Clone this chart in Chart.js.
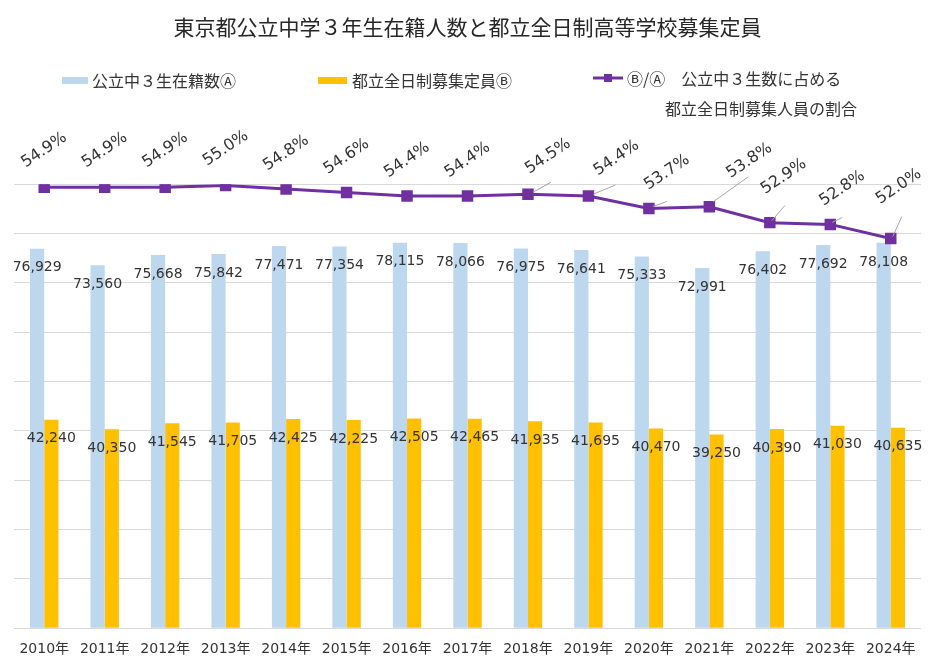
<!DOCTYPE html>
<html lang="ja">
<head>
<meta charset="utf-8">
<title>東京都公立中学３年生在籍人数と都立全日制高等学校募集定員</title>
<script src="https://cdn.jsdelivr.net/npm/chart.js@4.4.1/dist/chart.umd.min.js"></script>
<style>
  body { margin: 0; background: #fff; }
  canvas { display: block; }
</style>
</head>
<body>
<canvas id="chart" width="934" height="668"></canvas>
<script>
// データ
const years = ['2010年', '2011年', '2012年', '2013年', '2014年', '2015年', '2016年', '2017年',
               '2018年', '2019年', '2020年', '2021年', '2022年', '2023年', '2024年'];
const enrolled = [76929, 73560, 75668, 75842, 77471, 77354, 78115, 78066, 76975, 76641, 75333, 72991, 76402, 77692, 78108]; // Ⓐ
const quota = [42240, 40350, 41545, 41705, 42425, 42225, 42505, 42465, 41935, 41695, 40470, 39250, 40390, 41030, 40635];     // Ⓑ
const ratio = [54.9, 54.9, 54.9, 55.0, 54.8, 54.6, 54.4, 54.4, 54.5, 54.4, 53.7, 53.8, 52.9, 52.8, 52.0];                 // Ⓑ/Ⓐ (%)

// 割合ラベルの位置ずらし（点からの相対位置）と引き出し線
const pctShift = [[0, -37], [0, -37], [0, -37], [0, -37], [0, -36], [0, -36], [0, -36], [0, -36],
                  [20, -38], [28, -38], [18, -36], [40, -46], [14, -46], [12, -36], [8, -52]];
const leaders = [null, null, null, null, null, null, null, null,
                 [5, -2, 23, -12], [5, -2, 27, -11], [4, -2, 18, -7], [4, -5, 39, -30],
                 [2, -2, 15, -17], [2, -2, 12, -7], [2, -2, 11, -22]];

const BLUE = '#bdd7ee';
const GOLD = '#ffc000';
const PURPLE = '#7030a0';
const TEXT = '#333333';
const CJK = "'Noto Sans CJK JP', 'DejaVu Sans', sans-serif";
const NUM = "'DejaVu Sans', 'Noto Sans CJK JP', sans-serif";

// 棒・折れ線の値ラベル
const valueLabels = {
  id: 'valueLabels',
  afterDatasetsDraw(chart) {
    const ctx = chart.ctx;
    ctx.save();
    ctx.fillStyle = TEXT;
    ctx.textAlign = 'center';
    ctx.textBaseline = 'middle';
    ctx.font = '14px ' + NUM;
    [0, 1].forEach(di => {
      const ds = chart.data.datasets[di];
      chart.getDatasetMeta(di).data.forEach((el, i) => {
        ctx.fillText(ds.data[i].toLocaleString('en-US'), el.x, el.y + 19);
      });
    });

    const lineMeta = chart.getDatasetMeta(2);
    lineMeta.data.forEach((el, i) => {
      const l = leaders[i];
      if (l) {
        ctx.strokeStyle = '#a6a6a6';
        ctx.lineWidth = 1;
        ctx.beginPath();
        ctx.moveTo(el.x + l[0], el.y + l[1]);
        ctx.lineTo(el.x + l[2], el.y + l[3]);
        ctx.stroke();
      }
      const s = pctShift[i];
      ctx.save();
      ctx.translate(el.x + s[0], el.y + s[1]);
      ctx.rotate(-34 * Math.PI / 180);
      ctx.font = '16px ' + NUM;
      ctx.fillStyle = TEXT;
      ctx.fillText(ratio[i].toFixed(1) + '%', 0, 0);
      ctx.restore();
    });
    ctx.restore();
  }
};

// 凡例（手描き）
const customLegend = {
  id: 'customLegend',
  afterDraw(chart) {
    const ctx = chart.ctx;
    const ds = chart.data.datasets;
    ctx.save();
    ctx.font = '16px ' + CJK;
    ctx.fillStyle = TEXT;
    ctx.textBaseline = 'middle';
    ctx.textAlign = 'left';

    ctx.fillStyle = BLUE;
    ctx.fillRect(62, 77, 26, 7);
    ctx.fillStyle = TEXT;
    ctx.fillText(ds[0].label, 92, 81);

    ctx.fillStyle = GOLD;
    ctx.fillRect(318, 77, 29, 7);
    ctx.fillStyle = TEXT;
    ctx.fillText(ds[1].label, 352, 81);

    ctx.strokeStyle = PURPLE;
    ctx.lineWidth = 3;
    ctx.beginPath();
    ctx.moveTo(593, 78);
    ctx.lineTo(623, 78);
    ctx.stroke();
    ctx.fillStyle = PURPLE;
    ctx.fillRect(604, 74, 8, 8);
    ctx.fillStyle = TEXT;
    ctx.fillText(ds[2].label[0], 627, 79);
    ctx.fillText(ds[2].label[1], 665, 109);
    ctx.restore();
  }
};

new Chart(document.getElementById('chart'), {
  data: {
    labels: years,
    datasets: [
      {
        type: 'bar',
        label: '公立中３生在籍数Ⓐ',
        data: enrolled,
        backgroundColor: BLUE,
        categoryPercentage: 0.47,
        barPercentage: 1.0,
        yAxisID: 'y',
        order: 2
      },
      {
        type: 'bar',
        label: '都立全日制募集定員Ⓑ',
        data: quota,
        backgroundColor: GOLD,
        categoryPercentage: 0.47,
        barPercentage: 1.0,
        yAxisID: 'y',
        order: 2
      },
      {
        type: 'line',
        label: ['Ⓑ/Ⓐ　公立中３生数に占める', '都立全日制募集人員の割合'],
        data: ratio,
        borderColor: PURPLE,
        backgroundColor: PURPLE,
        borderWidth: 3,
        pointStyle: 'rect',
        pointRadius: 6,
        pointHoverRadius: 6,
        tension: 0,
        fill: false,
        yAxisID: 'y1',
        order: 1
      }
    ]
  },
  options: {
    responsive: false,
    animation: false,
    layout: { padding: { left: 14, right: 13, top: 0, bottom: -3 } },
    plugins: {
      legend: { display: false },
      tooltip: { enabled: false },
      title: {
        display: true,
        text: '東京都公立中学３年生在籍人数と都立全日制高等学校募集定員',
        color: '#262626',
        font: { family: CJK, size: 21, weight: 'normal' },
        padding: { top: 14, bottom: 145 }
      }
    },
    scales: {
      x: {
        grid: { display: false, drawTicks: false, tickLength: 0 },
        border: { display: false },
        ticks: {
          color: TEXT,
          font: { family: NUM, size: 14 },
          padding: 13,
          maxRotation: 0,
          autoSkip: false
        }
      },
      y: {
        min: 0,
        max: 90000,
        ticks: { display: false, stepSize: 10000 },
        grid: { color: '#d9d9d9', drawTicks: false },
        border: { display: false }
      },
      y1: {
        display: false,
        position: 'right',
        min: 30,
        max: 55.07
      }
    }
  },
  plugins: [valueLabels, customLegend]
});
</script>
</body>
</html>
